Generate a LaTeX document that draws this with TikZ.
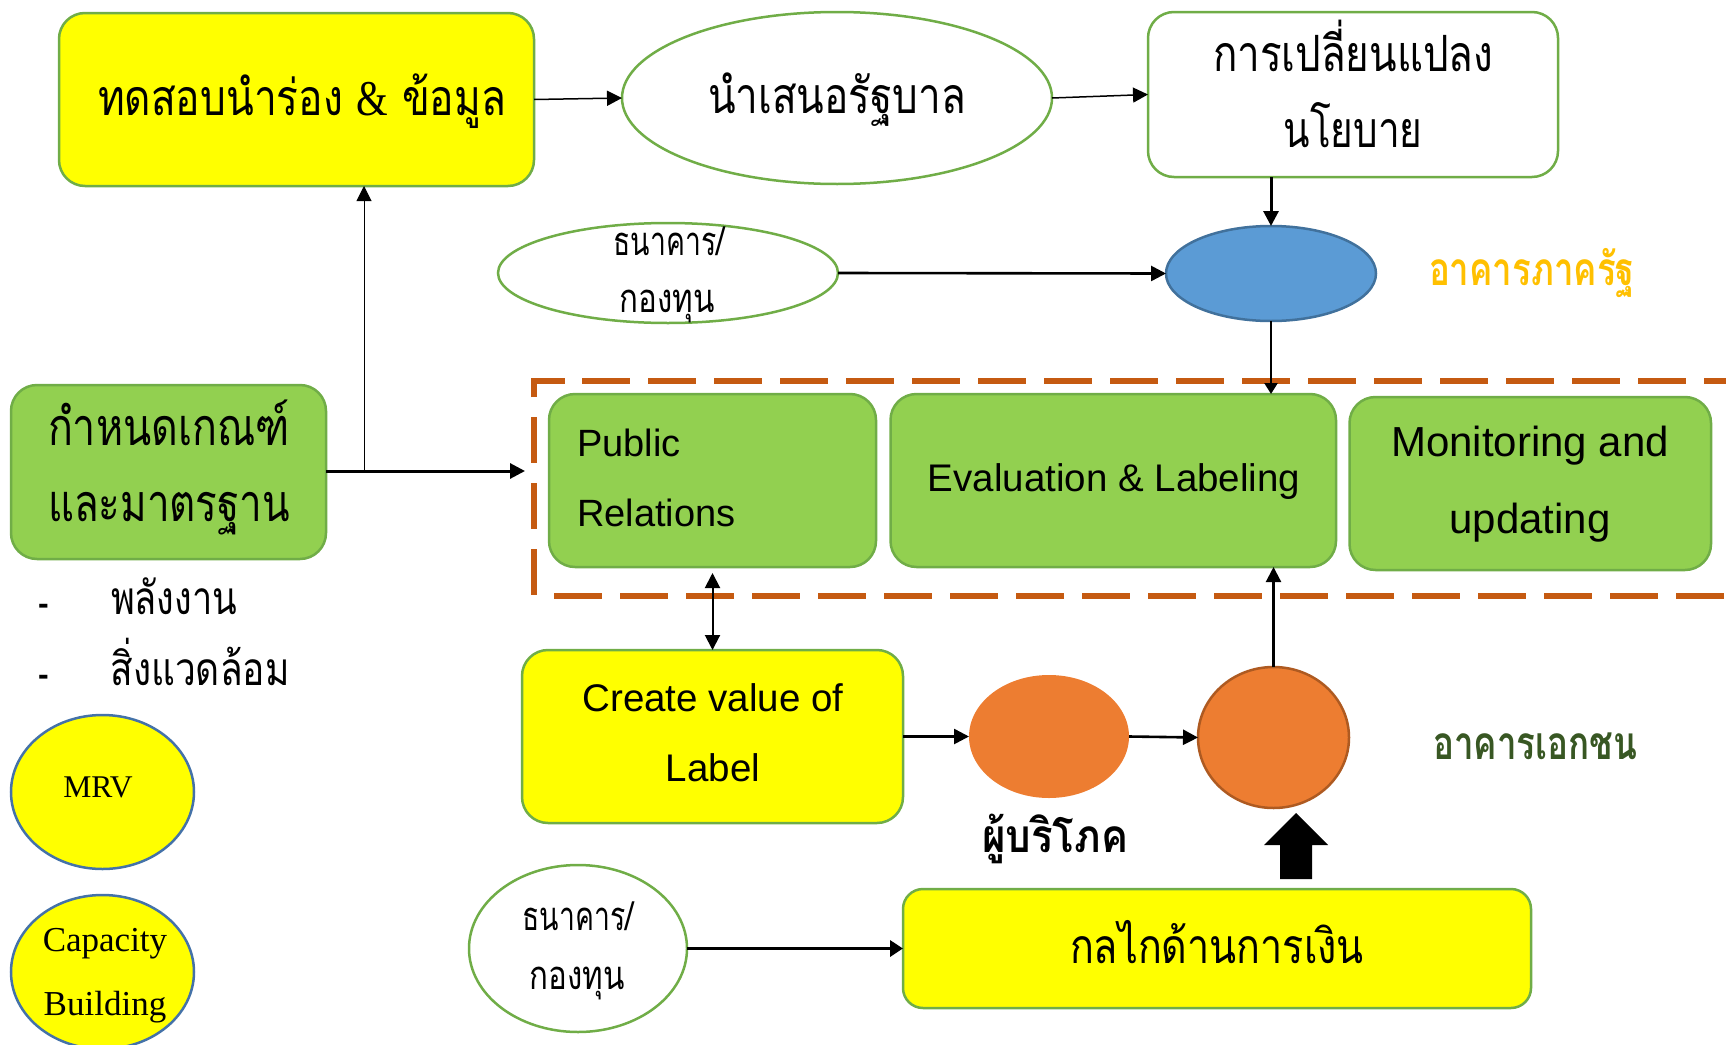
\documentclass[tikz,border=0pt]{standalone}
\usepackage{fontspec}
\usepackage{graphicx}
\setmainfont{Liberation Serif}
\newfontfamily\thaifont[Script=Thai]{Loma}
\newfontfamily\arialfont{Liberation Sans}
\newfontfamily\timesfont{Liberation Serif}
\usetikzlibrary{arrows.meta,shapes.geometric}
\newcommand{\thtxt}[3]{\resizebox{#2pt}{\height}{\fontsize{#1pt}{#1pt}\thaifont\selectfont #3}}
\newcommand{\thbold}[3]{\resizebox{#2pt}{\height}{\fontsize{#1pt}{#1pt}\thaifont\bfseries\selectfont #3}}
\newcommand{\sanstxt}[2]{{\fontsize{#1pt}{#1pt}\arialfont\selectfont #2}}
\newcommand{\serifb}[2]{{\fontsize{#1pt}{#1pt}\timesfont\selectfont #2}}
\definecolor{grn}{HTML}{92D050}
\definecolor{grnline}{HTML}{70AD47}
\definecolor{yel}{HTML}{FFFF00}
\definecolor{blu}{HTML}{5B9BD5}
\definecolor{bluline}{HTML}{41719C}
\definecolor{circline}{HTML}{4472A8}
\definecolor{org}{HTML}{ED7D31}
\definecolor{orgline}{HTML}{AE5A21}
\definecolor{dashc}{HTML}{C55A11}
\definecolor{amber}{HTML}{FFC000}
\definecolor{dkgrn}{HTML}{385723}
\tikzset{
  boxg/.style={rectangle,rounded corners=26pt,draw=grnline,line width=2.5pt,fill=grn,inner sep=0pt,outer sep=0pt},
  boxy/.style={boxg,fill=yel},
  boxw/.style={boxg,fill=white},
  ellw/.style={ellipse,draw=grnline,line width=2.5pt,fill=white,inner sep=0pt,outer sep=0pt},
  elly/.style={ellipse,draw=circline,line width=2.5pt,fill=yel,inner sep=0pt,outer sep=0pt},
  txt/.style={inner sep=0pt,outer sep=0pt,anchor=base},
  arr/.style={line width=1.5pt,-{Triangle[length=15pt,width=15pt]}},
  arrbold/.style={line width=2.6pt,-{Triangle[length=15pt,width=15pt]}},
  arrsmall/.style={line width=2.4pt,-{Triangle[length=11pt,width=13pt]}},
  arrthin/.style={line width=1pt,-{Triangle[length=15pt,width=15pt]}},
  arrthick/.style={line width=3.5pt,-{Triangle[length=13pt,width=16pt]}},
  dashline/.style={draw=dashc,line width=5.5pt,miter limit=10}
}
\begin{document}
\begin{tikzpicture}[x=1pt,y=-1pt]
\useasboundingbox (0,0) rectangle (1726,1044);
% dashed frame
\draw[dashline,line cap=butt] (534,397) -- (534,381) -- (565,381);
\draw[dashline,dash pattern=on 48pt off 18pt] (582,381) -- (1740,381);
\draw[dashline,dash pattern=on 46pt off 20pt] (534,417) -- (534,596);
\draw[dashline,dash pattern=on 48pt off 18pt] (554,596) -- (1740,596);
% shapes
\node[boxy,minimum width=475pt,minimum height=173pt] (test) at (296.5,99.5) {};
\node[ellw,minimum width=430pt,minimum height=172pt] (gov) at (837,98) {};
\node[boxw,minimum width=410pt,minimum height=165pt] (policy) at (1353,94.5) {};
\node[ellw,minimum width=340pt,minimum height=100pt] (bank) at (668,273) {};
\node[ellipse,draw=bluline,line width=2.5pt,fill=blu,inner sep=0pt,outer sep=0pt,minimum width=210pt,minimum height=95pt] (pub) at (1271,273.5) {};
\node[boxg,minimum width=315pt,minimum height=174pt] (crit) at (168.5,472) {};
\node[boxg,minimum width=327pt,minimum height=173pt] (pr) at (712.5,480.5) {};
\node[boxg,minimum width=445.5pt,minimum height=173pt] (eval) at (1113.25,480.5) {};
\node[boxg,minimum width=361.5pt,minimum height=173pt] (mon) at (1530.25,483.5) {};
\node[boxy,minimum width=381pt,minimum height=173pt] (create) at (712.5,736.5) {};
\node[elly,minimum width=183pt,minimum height=154pt] (mrv) at (102.5,792) {};
\node[elly,minimum width=183pt,minimum height=154pt] (cap) at (102.5,972) {};
\node[ellw,minimum width=218pt,minimum height=167pt] (bank2) at (578,948.5) {};
\node[ellipse,fill=org,inner sep=0pt,outer sep=0pt,minimum width=160pt,minimum height=123pt] (cons) at (1049,736.5) {};
\node[ellipse,draw=orgline,line width=2.5pt,fill=org,inner sep=0pt,outer sep=0pt,minimum width=151pt,minimum height=141pt] (priv) at (1273.5,737.5) {};
\node[boxy,minimum width=628pt,minimum height=119pt,rounded corners=20pt] (money) at (1217,948.5) {};
% texts
\node[txt] (t1) at (302,115) {\thtxt{50}{408}{ทดสอบนำร่อง {\timesfont\&} ข้อมูล}};
\node[txt] (t2) at (837,113) {\thtxt{50}{258}{นำเสนอรัฐบาล}};
\node[txt] (t3) at (1353,71) {\thtxt{50}{280}{การเปลี่ยนแปลง}};
\node[txt] (t4) at (1353,147) {\thtxt{50}{139}{นโยบาย}};
\node[txt] (t5) at (669,255) {\thtxt{40}{111}{ธนาคาร/}};
\node[txt] (t6) at (667,312) {\thtxt{40}{95}{กองทุน}};
\node[txt,text=amber] (t7) at (1532,285) {\thbold{46}{206}{อาคารภาครัฐ}};
\node[txt] (t8) at (169,445) {\thtxt{52}{242}{กำหนดเกณฑ์}};
\node[txt] (t9) at (169,521) {\thtxt{52}{242}{และมาตรฐาน}};
\node[txt,anchor=base west] (t10) at (577,456) {\sanstxt{38}{Public}};
\node[txt,anchor=base west] (t11) at (577,526) {\sanstxt{38}{Relations}};
\node[txt] (t12) at (1114,491) {\sanstxt{38.5}{Evaluation \& Labeling}};
\node[txt] (t13) at (1530,456) {\sanstxt{42}{Monitoring and}};
\node[txt] (t14) at (1530,533) {\sanstxt{42}{updating}};
\node[txt,anchor=base west] (d1) at (38,614) {\fontsize{32}{32}\arialfont\bfseries\selectfont -};
\node[txt,anchor=base west] (d2) at (38,685) {\fontsize{32}{32}\arialfont\bfseries\selectfont -};
\node[txt] (t15) at (174,614) {\thtxt{46}{126}{พลังงาน}};
\node[txt] (t16) at (200,685) {\thtxt{46}{179}{สิ่งแวดล้อม}};
\node[txt] (t17) at (713,711) {\sanstxt{38.5}{Create value of}};
\node[txt] (t18) at (713,781) {\sanstxt{38.5}{Label}};
\node[txt] (t19) at (98,797) {\serifb{31.6}{MRV}};
\node[txt] (t20) at (105,951) {\serifb{35}{Capacity}};
\node[txt] (t21) at (105,1015) {\serifb{35}{Building}};
\node[txt] (t22) at (578,930) {\thtxt{40}{111}{ธนาคาร/}};
\node[txt] (t23) at (577,989) {\thtxt{40}{95}{กองทุน}};
\node[txt] (t24) at (1055,852) {\thbold{46}{146}{ผู้บริโภค}};
\node[txt,text=dkgrn] (t25) at (1535,759) {\thbold{46}{204}{อาคารเอกชน}};
\node[txt] (t26) at (1217,963) {\thtxt{48}{294}{กลไกด้านการเงิน}};
% connectors
\coordinate (critend) at (525,471);
\coordinate (branch) at (364,471);
\draw[arr] (test.east) -- (gov.west);
\draw[arr] (gov.east) -- (policy.west);
\draw[arrbold,line width=3pt] (pub.north |- policy.south) -- (pub.north);
\draw[arrbold] (bank.east) -- (pub.west);
\draw[arrsmall] (pub.south) -- (pub.south |- eval.north);
\draw[arrthin] (branch) -- (branch |- test.south);
\draw[arrbold,line width=3pt] (crit.east |- critend) -- (critend);
\draw[line width=2pt,{Triangle[length=15pt,width=15pt]}-{Triangle[length=15pt,width=15pt]}] ([yshift=-6pt]pr.south) -- (create.north);
\draw[arrbold] (create.east) -- (cons.west);
\draw[arrbold] (cons.east) -- (priv.west);
\draw[arrbold,line width=2.2pt] (priv.north) -- (priv.north |- eval.south);
\draw[arrthick] (bank2.east) -- (money.west);
% block arrow
\fill[black] (1296,813) -- (1328,845) -- (1312,845) -- (1312,879) -- (1280,879) -- (1280,845) -- (1264,845) -- cycle;
\end{tikzpicture}
\end{document}
